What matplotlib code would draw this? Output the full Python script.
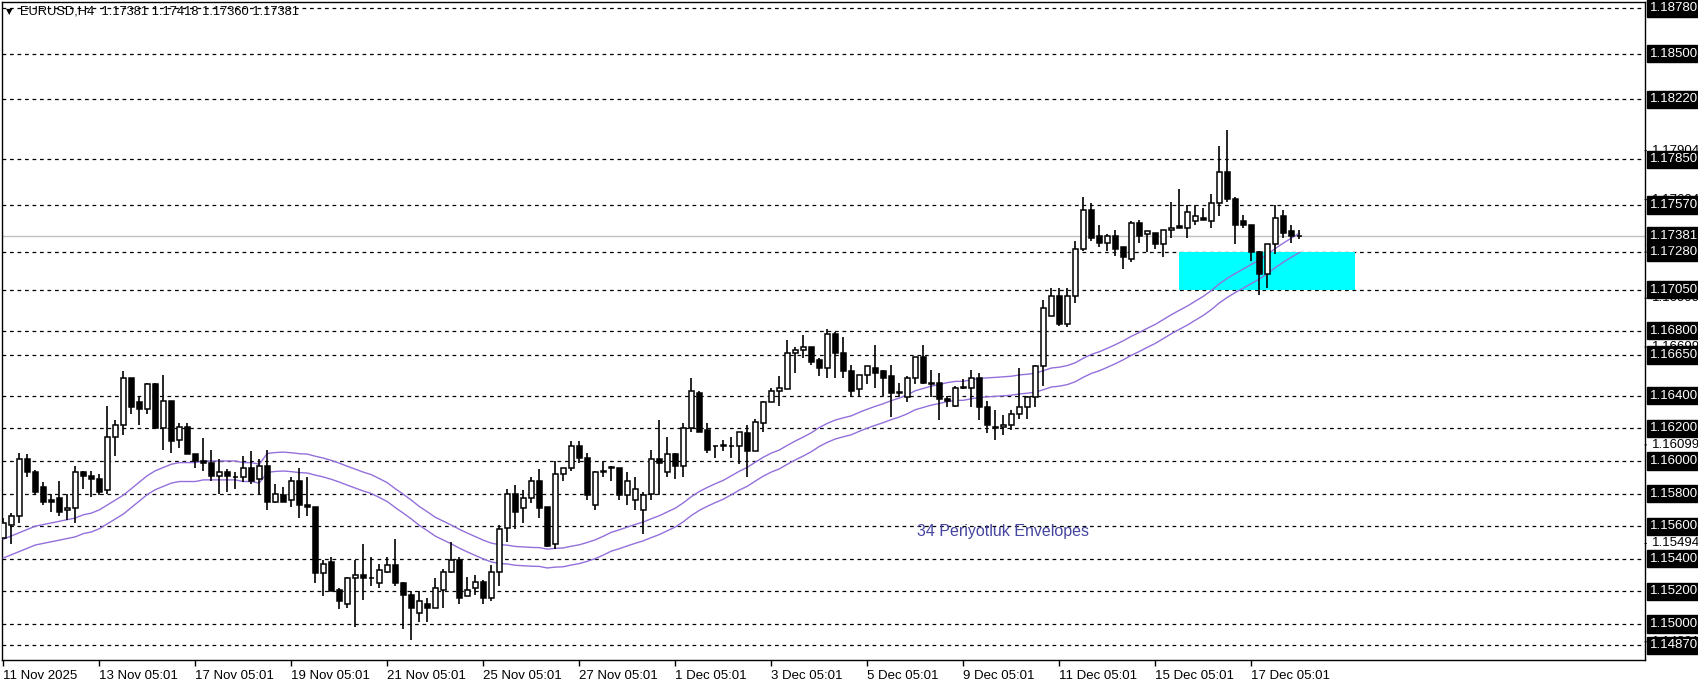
import numpy as np
import pandas as pd
import matplotlib
matplotlib.use("Agg")
import matplotlib.pyplot as plt
from matplotlib.patches import Rectangle

opens = [1.1553,1.1561,1.1566,1.1601,1.1593,1.1584,1.1576,1.1577,1.1570,1.1571,
1.1593,1.1591,1.1589,1.1582,1.1615,1.1622,1.1651,1.1636,1.1632,1.1647,
1.1620,1.1637,1.1613,1.1621,1.1604,1.1600,1.1599,1.1591,1.1593,1.1590,
1.1590,1.1596,1.1589,1.1597,1.1575,1.1579,1.1576,1.1588,1.1573,1.1572,
1.1531,1.1538,1.1521,1.1512,1.1528,1.1530,1.1528,1.1525,1.1532,1.1536,
1.1525,1.1518,1.1507,1.1512,1.1510,1.1521,1.1532,1.1539,1.1517,1.1522,
1.1526,1.1516,1.1532,1.1559,1.1580,1.1571,1.1577,1.1588,1.1572,1.1549,
1.1592,1.1596,1.1609,1.1602,1.1573,1.1593,1.1596,1.1596,1.1579,1.1576,
1.1570,1.1580,1.1601,1.1593,1.1604,1.1597,1.1620,1.1642,1.1619,1.1609,
1.1609,1.1609,1.1609,1.1617,1.1606,1.1623,1.1636,1.1643,1.1644,1.1666,
1.1668,1.1670,1.1662,1.1657,1.1678,1.1666,1.1655,1.1644,1.1653,1.1657,
1.1655,1.1652,1.1642,1.1639,1.1651,1.1664,1.1648,1.1648,1.1638,1.1634,
1.1645,1.1645,1.1651,1.1633,1.1621,1.1621,1.1622,1.1629,1.1633,1.1639,
1.1658,1.1689,1.1701,1.1684,1.1701,1.1730,1.1754,1.1738,1.1734,1.1738,
1.1731,1.1724,1.1746,1.1739,1.1740,1.1733,1.1742,1.1744,1.1743,1.1747,
1.1749,1.1747,1.1758,1.1777,1.1761,1.1747,1.1745,1.1728,1.1715,1.1733,
1.1750,1.1741,1.17381]
highs = [1.1565,1.1568,1.1605,1.1604,1.15945,1.1587,1.1580,1.1588,1.1580,1.1597,
1.1594,1.1594,1.1592,1.1634,1.1625,1.1655,1.1651,1.1640,1.1648,1.1648,
1.1653,1.1637,1.1623,1.1623,1.1604,1.1614,1.1607,1.1601,1.1595,1.1593,
1.1603,1.1606,1.1601,1.1607,1.1586,1.1584,1.1590,1.1596,1.1590,1.1572,
1.1539,1.1541,1.1522,1.1529,1.1539,1.1549,1.1541,1.1537,1.1541,1.1552,
1.1526,1.1520,1.1520,1.1516,1.1528,1.1534,1.1550,1.1541,1.1529,1.1530,
1.1527,1.1536,1.1561,1.1583,1.1585,1.1582,1.1590,1.1595,1.1572,1.1600,
1.1596,1.1612,1.1612,1.1605,1.1594,1.1600,1.1597,1.1596,1.1593,1.1590,
1.1581,1.1607,1.1625,1.1615,1.1605,1.1623,1.1651,1.1643,1.1623,1.1609,
1.1613,1.1615,1.1618,1.1622,1.1626,1.1637,1.1645,1.1652,1.1674,1.1670,
1.1677,1.1670,1.1663,1.1681,1.1679,1.1676,1.1659,1.1653,1.1658,1.1671,
1.1656,1.1659,1.1648,1.1652,1.1664,1.1671,1.1656,1.1654,1.1640,1.1646,
1.1650,1.1656,1.1654,1.1637,1.1631,1.1628,1.1631,1.1657,1.1640,1.1659,
1.1699,1.1706,1.1706,1.1706,1.1735,1.1762,1.1758,1.1745,1.1739,1.1742,
1.1731,1.1747,1.1748,1.1741,1.1740,1.1742,1.1759,1.1767,1.1757,1.1757,
1.1755,1.1764,1.1793,1.1803,1.1762,1.1751,1.1745,1.1729,1.1733,1.1757,
1.1754,1.1745,1.17418]
lows = [1.1552,1.1549,1.1562,1.1590,1.1580,1.1573,1.1569,1.1566,1.1564,1.1562,
1.1583,1.1578,1.1579,1.1580,1.1603,1.1616,1.1629,1.1622,1.1629,1.1620,
1.1607,1.1605,1.1608,1.1604,1.1596,1.1594,1.1588,1.1580,1.1581,1.1583,
1.1587,1.1586,1.1579,1.1570,1.1574,1.1575,1.1572,1.1565,1.1566,1.1525,
1.1517,1.1520,1.1509,1.1510,1.1498,1.1515,1.1523,1.1522,1.1531,1.1523,
1.1497,1.1490,1.1501,1.1501,1.1510,1.1510,1.1531,1.1512,1.1517,1.1518,
1.1512,1.1514,1.1523,1.1550,1.1558,1.1562,1.1574,1.1565,1.1547,1.1546,
1.1588,1.1594,1.1599,1.1576,1.1570,1.1590,1.1588,1.1576,1.1573,1.1570,
1.1555,1.1576,1.1579,1.1590,1.1589,1.1590,1.1618,1.1618,1.1605,1.1602,
1.1606,1.1602,1.1598,1.1590,1.1606,1.1618,1.1636,1.1634,1.1644,1.1654,
1.1663,1.1659,1.1652,1.1651,1.1651,1.1651,1.1639,1.1639,1.1647,1.1645,
1.1640,1.1627,1.1639,1.1636,1.1647,1.1647,1.1639,1.1625,1.1633,1.1633,
1.1644,1.1633,1.1625,1.1617,1.1613,1.1616,1.1619,1.1626,1.1626,1.1633,
1.1646,1.1689,1.1683,1.1682,1.1697,1.1729,1.1735,1.1731,1.1729,1.1726,
1.1718,1.1722,1.1734,1.1728,1.1730,1.1725,1.1737,1.1743,1.1737,1.1745,
1.1748,1.1743,1.1750,1.1759,1.1733,1.1743,1.1723,1.1702,1.1706,1.1727,
1.1737,1.1734,1.17360]
closes = [1.1562,1.1566,1.1601,1.1593,1.1581,1.1575,1.1575,1.1569,1.1571,1.1593,
1.1591,1.1589,1.1581,1.1615,1.1622,1.1651,1.1633,1.1632,1.1647,1.1620,
1.1637,1.1612,1.1621,1.1604,1.1600,1.1599,1.1591,1.1593,1.1591,1.1590,
1.1596,1.1588,1.1597,1.1575,1.1580,1.1575,1.1588,1.1573,1.1572,1.1531,
1.1537,1.1520,1.1514,1.1528,1.1530,1.1528,1.1528,1.1533,1.1536,1.1525,
1.1518,1.1510,1.1514,1.1510,1.1522,1.1532,1.1539,1.1516,1.1521,1.1526,
1.1516,1.1532,1.1558,1.1580,1.1569,1.1577,1.1588,1.1571,1.1548,1.1592,
1.1596,1.1609,1.1602,1.1579,1.1593,1.1594,1.1596,1.1579,1.1588,1.1583,
1.1579,1.1601,1.1599,1.1604,1.1597,1.1620,1.1643,1.1618,1.1607,1.1609,
1.1610,1.1609,1.1618,1.1606,1.1624,1.1636,1.1643,1.1645,1.1666,1.1668,
1.1670,1.1661,1.1657,1.1678,1.1666,1.1655,1.1643,1.1653,1.1658,1.1654,
1.1651,1.1642,1.1642,1.1651,1.1664,1.1648,1.1647,1.1638,1.1637,1.1645,
1.1645,1.1651,1.1633,1.1622,1.1620,1.1622,1.1629,1.1633,1.1639,1.1658,
1.1694,1.1701,1.1684,1.1701,1.1730,1.1754,1.1737,1.1734,1.1738,1.1730,
1.1725,1.1746,1.1738,1.1741,1.1733,1.1742,1.1743,1.1743,1.1753,1.1750,
1.1748,1.1758,1.1777,1.1761,1.1745,1.1745,1.1728,1.1715,1.1733,1.1749,
1.1740,1.1738,1.17381]

# upper envelope for bars before 34 closes are available
upper_env_start = [1.1552,1.1554,1.1556,1.1558,1.1560,1.1561,1.1562,1.1563,1.1564,1.1565,
1.1567,1.1568,1.1570,1.1573,1.1576,1.1579,1.1583,1.1587,1.1591,1.1594,
1.1596,1.1598,1.1599,1.1599,1.1599,1.1600,1.1600,1.1600,1.1600,1.1600,
1.1599,1.1599,1.1598]
env_period = 34
env_dev = 0.0005

levels = [1.1878,1.1850,1.1822,1.1785,1.1757,1.1728,1.1705,1.1680,1.1665,
          1.1640,1.1620,1.1600,1.1580,1.1560,1.1540,1.1520,1.1500,1.1487]
level_labels = ["1.18780","1.18500","1.18220","1.17850","1.17570","1.17280","1.17050",
                "1.16800","1.16650","1.16400","1.16200","1.16000","1.15800","1.15600",
                "1.15400","1.15200","1.15000","1.14870"]
extra_prices = [1.17904,1.17604,1.17281,1.16999,1.16699,1.16099,1.15494,1.14891]
last_price = 1.17381
zone = (1.1705, 1.1728)

tick_idx = [0,12,24,36,48,60,72,84,96,108,120,132,144,156]
tick_labels = ["11 Nov 2025","13 Nov 05:01","17 Nov 05:01","19 Nov 05:01","21 Nov 05:01",
               "25 Nov 05:01","27 Nov 05:01","1 Dec 05:01","3 Dec 05:01","5 Dec 05:01",
               "9 Dec 05:01","11 Dec 05:01","15 Dec 05:01","17 Dec 05:01"]

FONT = "Liberation Sans"
W, H = 1699, 684
fig = plt.figure(figsize=(W/100, H/100), dpi=100)
fig.patch.set_facecolor("white")
ax = fig.add_axes([2/W, 1-660/H, (1645-2)/W, (660-2)/H])
n = len(closes)
x = np.arange(n)
ax.set_xlim(-0.16, 205.2)
ax.set_ylim(1.14779, 1.18816)

for lv in levels:
    ax.axhline(lv, color="black", lw=0.9, ls=(0, (3, 3)), zorder=1)
ax.axhline(last_price, color="#c0c0c0", lw=1, zorder=1)

ax.add_patch(Rectangle((147.0, zone[0]), 22.0, zone[1]-zone[0], facecolor="#00ffff",
                       edgecolor="none", zorder=2))

cl = pd.Series(closes)
center = cl.rolling(env_period).mean().values
up = center*(1+env_dev)
lo = center*(1-env_dev)
k = len(upper_env_start)
up[:k] = upper_env_start
lo[:k] = np.array(upper_env_start)/(1+env_dev)*(1-env_dev)
ax.plot(x, up, color="#9370DB", lw=1, zorder=3)
ax.plot(x, lo, color="#9370DB", lw=1, zorder=3)

o = np.array(opens); c = np.array(closes); h = np.array(highs); l = np.array(lows)
ax.vlines(x, l, h, color="black", lw=1.2, zorder=4)
bot = np.minimum(o, c); hgt = np.maximum(np.abs(c-o), 0.00002)
cols = ["white" if cc >= oo else "black" for oo, cc in zip(o, c)]
ax.bar(x, hgt, bottom=bot, width=0.62, color=cols, edgecolor="black", linewidth=1.1, zorder=5)

ax.text(125.0, 1.15565, "34 Periyotluk Envelopes", color="#4646a0", fontsize=11.5,
        family=FONT, ha="center", va="center", zorder=6)

for s in ax.spines.values():
    s.set_color("black"); s.set_linewidth(1)
ax.set_yticks([])
ax.set_xticks(tick_idx)
ax.set_xticklabels(tick_labels, fontsize=9.5, ha="left", family=FONT)
ax.tick_params(axis="x", length=4, width=1, pad=3, direction="out")

# right price scale
for p in extra_prices:
    ax.annotate(f"{p:.5f}", xy=(1.0, p), xycoords=("axes fraction", "data"),
                xytext=(5, 0), textcoords="offset points", fontsize=9.5, family=FONT,
                va="center", ha="left", color="black", annotation_clip=False)
    ax.annotate("", xy=(1.0, p), xycoords=("axes fraction", "data"), xytext=(3, 0),
                textcoords="offset points", annotation_clip=False,
                arrowprops=dict(arrowstyle="-", color="black", lw=0.8))
for p, lab in list(zip(levels, level_labels)) + [(last_price, "1.17381")]:
    ax.annotate(lab, xy=(1.0, p), xycoords=("axes fraction", "data"),
                xytext=(3.5, 0), textcoords="offset points", fontsize=9.5, family=FONT,
                va="center", ha="left", color="white", annotation_clip=False,
                bbox=dict(boxstyle="square,pad=0.2", fc="black", ec="black"))

fig.text(20/W, 1-12/H, "EURUSD,H4  1.17381 1.17418 1.17360 1.17381", fontsize=9.3,
         family=FONT, va="center", ha="left", color="black")
fig.text(6/W, 1-12/H, "\u25BC", fontsize=6, va="center", ha="left", color="black")

fig.savefig("out.png", dpi=100, facecolor="white")
